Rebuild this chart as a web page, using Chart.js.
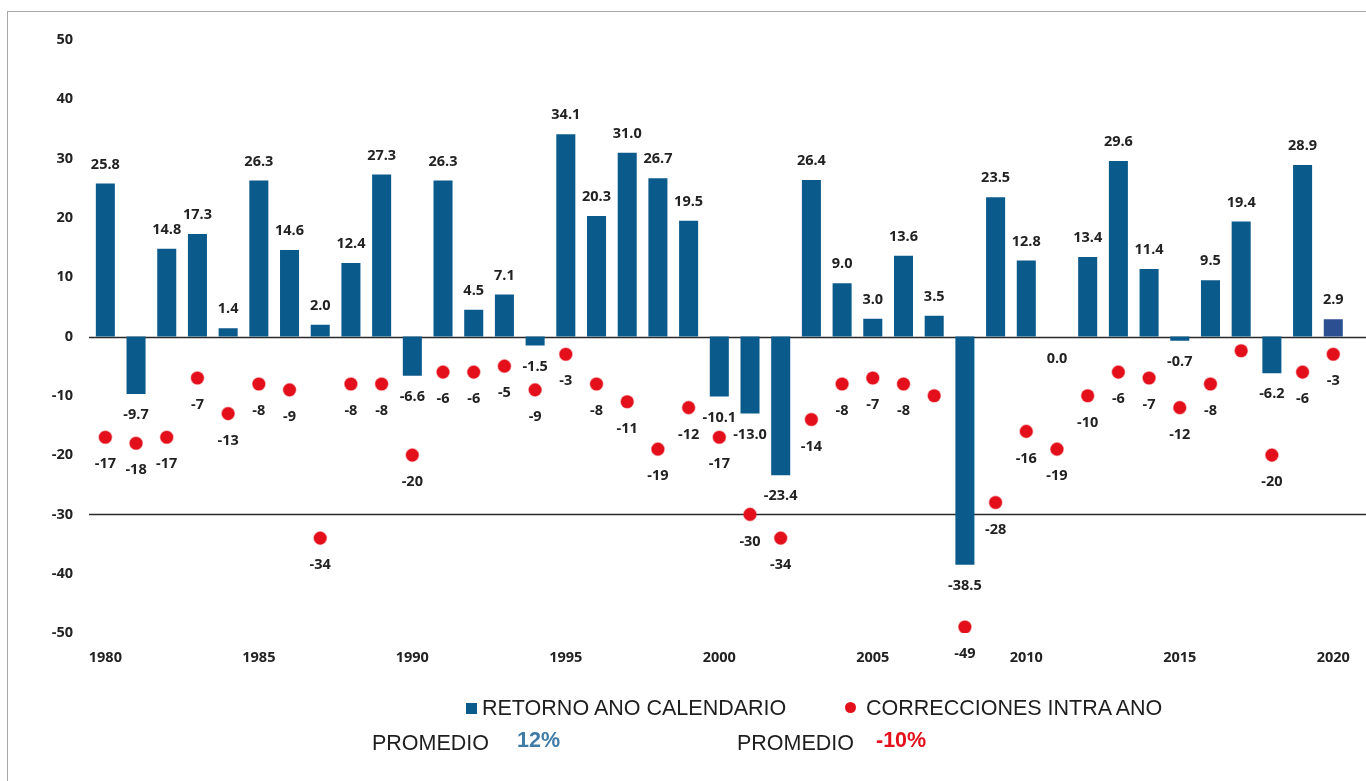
<!DOCTYPE html>
<html>
<head>
<meta charset="utf-8">
<script src="https://cdn.jsdelivr.net/npm/chart.js@4.4.1/dist/chart.umd.min.js"></script>
<style>
  html, body { margin: 0; padding: 0; background: #fff; }
  #wrap { position: relative; width: 1366px; height: 781px; overflow: hidden; }
  #frame { position: absolute; left: 7px; top: 11px; width: 1400px; height: 800px; border: 1px solid #a8a8a8; box-sizing: border-box; }
  canvas { position: absolute; left: 0; top: 0; }
  .leg { position: absolute; font-family: "Liberation Sans", Arial, sans-serif; font-size: 21.5px; color: #1e1e1e; white-space: nowrap; line-height: 1; }
  .sq { position: absolute; width: 11px; height: 11px; background: #0b5a8c; }
  .dot { position: absolute; width: 11px; height: 11px; border-radius: 50%; background: #e3101b; }
</style>
</head>
<body>
<div id="wrap">
  <div id="frame"></div>
  <canvas id="c" width="1366" height="781"></canvas>
  <div class="sq" style="left:466px; top:703px;"></div>
  <div class="leg" style="left:482px; top:698px;">RETORNO ANO CALENDARIO</div>
  <div class="dot" style="left:845px; top:702px;"></div>
  <div class="leg" style="left:866px; top:698px;">CORRECCIONES INTRA ANO</div>
  <div class="leg" style="left:372px; top:733px;">PROMEDIO</div>
  <div class="leg" style="left:517px; top:730px; font-weight:bold; color:#3f7ba6;">12%</div>
  <div class="leg" style="left:737px; top:733px;">PROMEDIO</div>
  <div class="leg" style="left:876px; top:730px; font-weight:bold; color:#e3101b;">-10%</div>
</div>
<script>
const years = ['1980','1981','1982','1983','1984','1985','1986','1987','1988','1989',
  '1990','1991','1992','1993','1994','1995','1996','1997','1998','1999',
  '2000','2001','2002','2003','2004','2005','2006','2007','2008','2009',
  '2010','2011','2012','2013','2014','2015','2016','2017','2018','2019','2020'];

const calendarReturns = [25.8, -9.7, 14.8, 17.3, 1.4, 26.3, 14.6, 2.0, 12.4, 27.3,
  -6.6, 26.3, 4.5, 7.1, -1.5, 34.1, 20.3, 31.0, 26.7, 19.5,
  -10.1, -13.0, -23.4, 26.4, 9.0, 3.0, 13.6, 3.5, -38.5, 23.5,
  12.8, 0.0, 13.4, 29.6, 11.4, -0.7, 9.5, 19.4, -6.2, 28.9, 2.9];

const intraYearDeclines = [-17, -18, -17, -7, -13, -8, -9, -34, -8, -8,
  -20, -6, -6, -5, -9, -3, -8, -11, -19, -12,
  -17, -30, -34, -14, -8, -7, -8, -10, -49, -28,
  -16, -19, -10, -6, -7, -12, -8, -2.4, -20, -6, -3];

const declineLabels = ['-17','-18','-17','-7','-13','-8','-9','-34','-8','-8',
  '-20','-6','-6','-5','-9','-3','-8','-11','-19','-12',
  '-17','-30','-34','-14','-8','-7','-8','','-49','-28',
  '-16','-19','-10','-6','-7','-12','-8','','-20','-6','-3'];

const yTicks = [50, 40, 30, 20, 10, 0, -10, -20, -30, -40, -50];
const refLines = [0, -30];

const BAR = '#0b5a8c';
const BAR_LAST = '#2c4f91';
const RED = '#e3101b';
const TXT = '#222';
const NUMFONT = 'bold 14.5px "Open Sans", sans-serif';

const linesPlugin = {
  id: 'refLines',
  beforeDatasetsDraw(chart) {
    const { ctx, chartArea, scales } = chart;
    ctx.save();
    ctx.strokeStyle = '#2a2a2a';
    ctx.lineWidth = 1.5;
    refLines.forEach(v => {
      const y = Math.round(scales.y.getPixelForValue(v)) + 0.5;
      ctx.beginPath();
      ctx.moveTo(chartArea.left - 1, y);
      ctx.lineTo(chart.width, y);
      ctx.stroke();
    });
    ctx.restore();
  }
};

const labelsPlugin = {
  id: 'valueLabels',
  afterDatasetsDraw(chart) {
    const { ctx, scales } = chart;
    const zero = scales.y.getPixelForValue(0);
    ctx.save();
    ctx.font = NUMFONT;
    ctx.fillStyle = TXT;
    ctx.textAlign = 'center';
    ctx.textBaseline = 'middle';
    const bars = chart.getDatasetMeta(0).data;
    bars.forEach((el, i) => {
      const v = calendarReturns[i];
      let y;
      if (v > 0) y = el.y - 19;
      else if (v === 0) y = zero + 22;
      else y = el.y + 21;
      ctx.fillText(v.toFixed(1), el.x, y);
    });
    const pts = chart.getDatasetMeta(1).data;
    pts.forEach((el, i) => {
      const t = declineLabels[i];
      if (t) ctx.fillText(t, el.x, el.y + 27);
    });
    ctx.restore();
  }
};

new Chart(document.getElementById('c'), {
  data: {
    labels: years,
    datasets: [
      {
        type: 'bar',
        label: 'RETORNO ANO CALENDARIO',
        data: calendarReturns,
        backgroundColor: calendarReturns.map((v, i) => i === calendarReturns.length - 1 ? BAR_LAST : BAR),
        barPercentage: 0.62,
        categoryPercentage: 1.0,
        order: 2
      },
      {
        type: 'line',
        label: 'CORRECCIONES INTRA ANO',
        data: intraYearDeclines,
        showLine: false,
        pointRadius: 6.3,
        pointHoverRadius: 6.3,
        pointBackgroundColor: RED,
        pointBorderColor: 'rgba(227,16,27,0.4)',
        pointBorderWidth: 1.5,
        order: 1
      }
    ]
  },
  plugins: [linesPlugin, labelsPlugin],
  options: {
    responsive: false,
    animation: false,
    events: [],
    layout: { padding: { top: 40, right: 12, left: 0, bottom: 0 } },
    plugins: { legend: { display: false }, tooltip: { enabled: false } },
    scales: {
      x: {
        offset: true,
        grid: { display: false, drawTicks: false },
        border: { display: false },
        afterFit(s) { s.height = 148; },
        ticks: {
          autoSkip: false,
          maxRotation: 0,
          padding: 16,
          color: TXT,
          font: { family: '"Open Sans", sans-serif', size: 14.5, weight: 'bold' },
          callback(val, idx) { const y = years[idx]; return (+y) % 5 === 0 ? y : ''; }
        }
      },
      y: {
        min: -50,
        max: 50,
        afterFit(s) { s.width = 90; },
        afterBuildTicks(s) { s.ticks = yTicks.map(v => ({ value: v })); },
        grid: { display: false, drawTicks: false },
        border: { display: false },
        ticks: {
          padding: 17,
          color: TXT,
          font: { family: '"Open Sans", sans-serif', size: 14.5, weight: 'bold' },
          callback(v) { return String(v); }
        }
      }
    }
  }
});
</script>
</body>
</html>
